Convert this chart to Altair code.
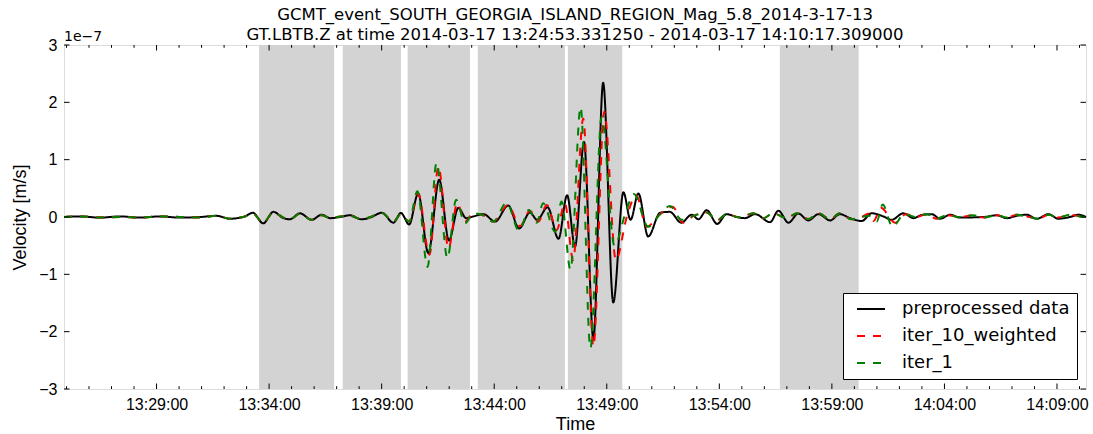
import altair as alt
import pandas as pd

# ---------------- data ----------------
TITLE_LINES = [
    "GCMT_event_SOUTH_GEORGIA_ISLAND_REGION_Mag_5.8_2014-3-17-13",
    "GT.LBTB.Z at time 2014-03-17 13:24:53.331250 - 2014-03-17 14:10:17.309000",
]
START = "2014-03-17 13:24:53.331"
END = "2014-03-17 14:10:17.309"
SERIES = ["preprocessed data", "iter_10_weighted", "iter_1"]
COLORS = ["black", "red", "green"]

# seconds after trace start ; velocity in units of 1e-7 m/s
black_t = [0, 43, 96, 149, 203, 256, 309, 362, 407, 442, 482, 503, 531, 558, 585, 602, 629, 660, 687, 709,
           736, 762, 793, 820, 847, 878, 898, 920, 944, 971, 1000, 1026, 1051, 1072, 1091, 1118, 1149, 1184,
           1213, 1242, 1261, 1289, 1318, 1341, 1362, 1386, 1411, 1437, 1464, 1491, 1510, 1531, 1557, 1589,
           1615, 1645, 1673, 1691, 1713, 1741, 1766, 1793, 1815, 1842, 1882, 1904, 1931, 1957, 1984, 2011,
           2042, 2068, 2095, 2126, 2153, 2184, 2206, 2237, 2264, 2286, 2313, 2335, 2362, 2388, 2450, 2486,
           2513, 2539, 2566, 2593, 2624, 2650, 2681, 2704, 2724]
black_v = [0.0, 0.01, -0.01, 0.01, -0.01, 0.01, -0.01, 0.0, 0.02, -0.03, 0.01, 0.075, -0.11, 0.09, -0.02,
           -0.04, 0.065, -0.05, 0.04, -0.02, 0.0, 0.03, -0.04, 0.0, 0.075, -0.1, 0.07, -0.13, 0.41, -0.63,
           0.65, -0.41, 0.16, -0.02, 0.01, 0.05, -0.08, 0.2, -0.2, 0.08, -0.05, 0.17, -0.38, 0.38, -0.52,
           1.31, -2.13, 2.34, -1.49, 0.43, -0.05, 0.41, -0.34, 0.075, 0.09, -0.1, 0.04, -0.04, 0.12, -0.12,
           0.05, 0.0, -0.02, 0.05, -0.09, 0.11, -0.1, 0.06, -0.06, 0.05, -0.06, 0.05, -0.02, -0.07, 0.065,
           0.01, -0.05, 0.065, -0.02, 0.035, 0.05, -0.03, 0.04, -0.01, 0.0, 0.03, -0.02, 0.02, 0.04, -0.03,
           0.05, -0.03, 0.0, 0.04, 0.0]

red_t = [0, 43, 96, 149, 203, 256, 309, 362, 407, 442, 482, 503, 531, 558, 585, 602, 629, 660, 687, 709,
         736, 762, 793, 820, 847, 878, 898, 920, 944, 974, 998, 1025, 1048, 1069, 1091, 1117, 1144, 1184,
         1215, 1242, 1264, 1287, 1313, 1335, 1357, 1384, 1411, 1440, 1471, 1500, 1525, 1553, 1589, 1622,
         1650, 1678, 1713, 1740, 1766, 1802, 1837, 1864, 1890, 1926, 1953, 1984, 2011, 2042, 2068, 2099,
         2126, 2146, 2158, 2177, 2215, 2244, 2271, 2299, 2326, 2353, 2388, 2424, 2450, 2486, 2513, 2539,
         2566, 2597, 2624, 2650, 2681, 2708, 2724]
red_v = [0.0, 0.01, -0.01, 0.0, -0.01, 0.01, 0.0, -0.01, 0.02, -0.03, 0.01, 0.06, -0.1, 0.08, -0.01,
         -0.04, 0.06, -0.05, 0.03, -0.02, 0.01, 0.02, -0.04, 0.01, 0.07, -0.08, 0.05, -0.08, 0.41, -0.66,
         0.88, -0.55, 0.24, -0.08, 0.065, 0.03, -0.08, 0.21, -0.16, 0.11, -0.08, 0.21, -0.23, 0.24, -0.75,
         1.72, -2.26, 1.84, -0.75, 0.0, 0.38, -0.17, 0.05, 0.18, -0.1, 0.02, 0.08, -0.06, 0.05, -0.01,
         0.065, -0.02, 0.065, -0.02, 0.065, -0.035, 0.065, -0.04, 0.065, -0.04, 0.0, 0.06, -0.07, 0.16,
         -0.1, 0.05, 0.0, 0.05, -0.03, 0.03, 0.0, 0.03, -0.01, 0.03, -0.01, 0.04, 0.01, -0.03, 0.04,
         -0.01, 0.04, 0.01, 0.0]

green_t = [0, 43, 96, 149, 203, 256, 309, 362, 407, 442, 482, 503, 531, 558, 585, 602, 629, 660, 687, 709,
           736, 762, 793, 820, 847, 878, 898, 920, 942, 969, 993, 1022, 1045, 1069, 1091, 1117, 1144, 1180,
           1213, 1239, 1260, 1277, 1309, 1326, 1350, 1377, 1403, 1433, 1467, 1498, 1519, 1557, 1589, 1615,
           1646, 1678, 1713, 1740, 1766, 1802, 1837, 1864, 1890, 1926, 1953, 1984, 2011, 2042, 2068, 2099,
           2126, 2146, 2166, 2182, 2208, 2240, 2271, 2299, 2326, 2353, 2388, 2424, 2450, 2486, 2513, 2539,
           2566, 2597, 2624, 2650, 2681, 2708, 2724]
green_v = [0.0, 0.01, -0.01, 0.0, -0.01, 0.01, 0.0, -0.01, 0.02, -0.03, 0.01, 0.06, -0.1, 0.08, -0.01,
           -0.04, 0.06, -0.05, 0.03, -0.02, 0.01, 0.02, -0.04, 0.01, 0.07, -0.08, 0.05, -0.08, 0.45, -0.87,
           0.95, -0.72, 0.3, -0.11, 0.065, 0.03, -0.08, 0.25, -0.24, 0.12, -0.1, 0.24, -0.26, 0.27, -0.92,
           1.92, -2.29, 1.75, -0.5, 0.1, 0.4, -0.17, 0.05, 0.19, -0.05, 0.02, 0.08, -0.06, 0.05, -0.01,
           0.065, -0.02, 0.065, -0.02, 0.065, -0.035, 0.065, -0.04, 0.065, -0.04, 0.0, 0.02, -0.08, 0.22,
           -0.17, 0.05, 0.0, 0.05, -0.03, 0.03, 0.0, 0.03, -0.01, 0.03, -0.01, 0.04, 0.01, -0.03, 0.04,
           -0.01, 0.04, 0.01, 0.0]

# measurement windows (seconds after trace start)
win_start = [520, 743, 916, 1103, 1343, 1908]
win_end = [720, 898, 1082, 1335, 1488, 2118]

# axis ticks
major_ticks = ["13:29:00", "13:34:00", "13:39:00", "13:44:00", "13:49:00",
               "13:54:00", "13:59:00", "14:04:00", "14:09:00"]
minor_ticks = ["13:25", "13:26", "13:27", "13:28", "13:30", "13:31", "13:32", "13:33",
               "13:35", "13:36", "13:37", "13:38", "13:40", "13:41", "13:42", "13:43",
               "13:45", "13:46", "13:47", "13:48", "13:50", "13:51", "13:52", "13:53",
               "13:55", "13:56", "13:57", "13:58", "14:00", "14:01", "14:02", "14:03",
               "14:05", "14:06", "14:07", "14:08", "14:10"]
y_ticks = [-3, -2, -1, 0, 1, 2, 3]

# ---------------- helpers ----------------
W, H = 1022, 344
FONT = "DejaVu Sans"
t0 = pd.Timestamp(START)


def stamp(secs):
    return [(t0 + pd.Timedelta(seconds=s)).strftime("%Y-%m-%dT%H:%M:%S.%f")[:-3] for s in secs]


def clock(hms):
    return [pd.Timestamp("2014-03-17 " + (h if h.count(":") == 2 else h + ":00")).strftime("%Y-%m-%dT%H:%M:%S")
            for h in hms]


def dt(ts):
    ts = pd.Timestamp(ts)
    return alt.DateTime(year=ts.year, month=ts.month, date=ts.day, hours=ts.hour,
                        minutes=ts.minute, seconds=ts.second, milliseconds=ts.microsecond // 1000)


x_scale = alt.Scale(domain=[dt(START), dt(END)], nice=False)
y_scale = alt.Scale(domain=[-3, 3], nice=False, zero=False)

x_axis = alt.Axis(title="Time", values=[dt("2014-03-17 " + h) for h in major_ticks], format="%H:%M:%S",
                  ticks=False, tickSize=0, domain=False, grid=False, labelFontSize=16, titleFontSize=18,
                  titleFontWeight="normal", labelPadding=7, titlePadding=3, labelFlush=False)
y_axis = alt.Axis(title="Velocity [m/s]", values=y_ticks, format="d", ticks=False, tickSize=0,
                  domain=False, grid=False, labelFontSize=16, titleFontSize=18,
                  titleFontWeight="normal", labelPadding=7, titlePadding=9)

legend = alt.Legend(title=None, orient="none", legendX=779, legendY=248, symbolType="M-2,0H2",
                    symbolSize=196, symbolStrokeWidth=2, symbolOffset=12, labelFontSize=18,
                    labelFont=FONT, labelColor="black", labelOffset=22, labelLimit=400,
                    padding=7, rowPadding=9, fillColor="white", strokeColor="black", cornerRadius=0)
color_scale = alt.Scale(domain=SERIES, range=COLORS)
dash_scale = alt.Scale(domain=SERIES, range=[[1, 0], [8, 8], [8, 8]])

X = lambda f: alt.X(f, scale=x_scale, axis=x_axis)
Y = lambda f: alt.Y(f, scale=y_scale, axis=y_axis)

# ---------------- layers ----------------
win_df = pd.DataFrame({"start": stamp(win_start), "end": stamp(win_end)})
windows = alt.Chart(win_df).mark_rect(color="#d3d3d3").encode(
    x=X("start:T"), x2="end:T",
    y=alt.value(0), y2=alt.value(H),
)


def line_layer(name, ts, vs):
    df = pd.DataFrame({"time": stamp(ts), "v": vs, "series": name})
    return alt.Chart(df).mark_line(strokeWidth=2, interpolate="monotone").encode(
        x=X("time:T"),
        y=Y("v:Q"),
        color=alt.Color("series:N", scale=color_scale, legend=legend),
        strokeDash=alt.StrokeDash("series:N", scale=dash_scale, legend=legend),
    )


black_line = line_layer(SERIES[0], black_t, black_v)
red_line = line_layer(SERIES[1], red_t, red_v)
green_line = line_layer(SERIES[2], green_t, green_v)

maj_df = pd.DataFrame({"t": clock(major_ticks)})
min_df = pd.DataFrame({"t": clock(minor_ticks)})
yt_df = pd.DataFrame({"v": y_ticks})


def xticks(df, length):
    bottom = alt.Chart(df).mark_rule(color="black", strokeWidth=1).encode(
        x=X("t:T"), y=alt.value(H), y2=alt.value(H - length))
    top = alt.Chart(df).mark_rule(color="black", strokeWidth=1).encode(
        x=X("t:T"), y=alt.value(0), y2=alt.value(length))
    return [bottom, top]


left_ticks = alt.Chart(yt_df).mark_rule(color="black", strokeWidth=1).encode(
    y=Y("v:Q"), x=alt.value(0), x2=alt.value(5.5))
right_ticks = alt.Chart(yt_df).mark_rule(color="black", strokeWidth=1).encode(
    y=Y("v:Q"), x=alt.value(W), x2=alt.value(W - 5.5))

offset_df = pd.DataFrame({"txt": ["1e\u22127"]})
offset_text = alt.Chart(offset_df).mark_text(align="left", baseline="bottom", fontSize=14,
                                             font=FONT, color="black").encode(
    text="txt:N", x=alt.value(0), y=alt.value(-1))

chart = alt.layer(
    windows, black_line, red_line, green_line,
    *xticks(maj_df, 5.5), *xticks(min_df, 2.8), left_ticks, right_ticks, offset_text,
).properties(
    width=W, height=H,
    title=alt.TitleParams(text=TITLE_LINES, fontSize=16.5, font=FONT, fontWeight="normal",
                          color="black", anchor="middle", offset=5, lineHeight=20, dy=18),
    autosize=alt.AutoSizeParams(type="none"),
    padding={"left": 64, "top": 45, "right": 7, "bottom": 45},
).configure_view(
    stroke="black", strokeWidth=1
).configure_axis(
    labelFont=FONT, titleFont=FONT, labelColor="black", titleColor="black", titleFontWeight="normal"
).configure(background="white")

chart.save("out.html", embed_options={"renderer": "svg", "actions": False})
